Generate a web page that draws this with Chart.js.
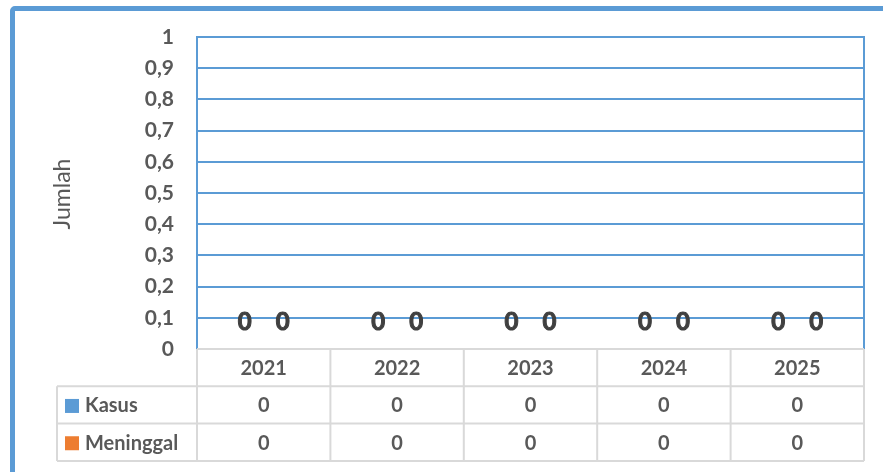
<!DOCTYPE html>
<html>
<head>
<meta charset="utf-8">
<script src="https://cdn.jsdelivr.net/npm/chart.js@4.4.1/dist/chart.umd.min.js"></script>
<style>
  html, body { margin: 0; padding: 0; background: #ffffff; }
  #wrap { position: relative; width: 883px; height: 472px; overflow: hidden; background: #fff; }
  #frame { position: absolute; left: 10px; top: 6px; width: 960px; height: 560px;
           border: 5px solid #5b9bd5; border-radius: 5px; box-sizing: border-box; }
  #c { position: absolute; left: 0; top: 0; }
</style>
</head>
<body>
<div id="wrap">
  <div id="frame"></div>
  <canvas id="c" width="883" height="472"></canvas>
</div>
<script>
const years = ['2021', '2022', '2023', '2024', '2025'];
const kasus = [0, 0, 0, 0, 0];
const meninggal = [0, 0, 0, 0, 0];
const seriesNames = ['Kasus', 'Meninggal'];
const seriesColors = ['#5b9bd5', '#ed7d31'];
const yTitle = 'Jumlah';

const FONT = 'Lato, "Open Sans", sans-serif';
const GRAY = '#d9d9d9';

const tablePlugin = {
  id: 'tablePlugin',
  afterDraw(chart) {
    const ctx = chart.ctx;
    const ca = chart.chartArea;
    const xs = chart.scales.x;
    const n = years.length;
    const colW = (ca.right - ca.left) / n;
    const rowH = 37.3;
    const top = ca.bottom;
    const labelLeft = 57;
    ctx.save();
    // right plot border
    ctx.strokeStyle = '#5b9bd5';
    ctx.lineWidth = 2;
    ctx.beginPath();
    ctx.moveTo(ca.right, ca.top - 1);
    ctx.lineTo(ca.right, ca.bottom);
    ctx.stroke();

    // data labels on bars
    ctx.fillStyle = '#404040';
    ctx.strokeStyle = '#404040';
    ctx.lineWidth = 1;
    ctx.font = 'bold 24px ' + FONT;
    ctx.textAlign = 'center';
    ctx.textBaseline = 'alphabetic';
    chart.data.datasets.forEach((ds, d) => {
      const meta = chart.getDatasetMeta(d);
      meta.data.forEach((el, i) => {
        ctx.fillText(String(ds.data[i]), el.x, el.y - 19);
        ctx.strokeText(String(ds.data[i]), el.x, el.y - 19);
      });
    });

    // table grid
    ctx.strokeStyle = GRAY;
    ctx.lineWidth = 2;
    ctx.beginPath();
    ctx.moveTo(ca.left, top); ctx.lineTo(ca.right, top);
    for (let r = 1; r <= 3; r++) {
      const y = top + r * rowH;
      ctx.moveTo(labelLeft, y); ctx.lineTo(ca.right, y);
    }
    for (let k = 0; k <= n; k++) {
      const x = ca.left + k * colW;
      ctx.moveTo(x, top); ctx.lineTo(x, top + 3 * rowH);
    }
    ctx.moveTo(labelLeft, top + rowH); ctx.lineTo(labelLeft, top + 3 * rowH);
    ctx.stroke();

    // header years
    ctx.fillStyle = '#595959';
    ctx.font = 'bold 20px ' + FONT;
    ctx.textBaseline = 'middle';
    ctx.textAlign = 'center';
    years.forEach((yr, i) => {
      const cx = xs.getPixelForValue(i);
      ctx.fillText(yr, cx, top + rowH / 2 + 1);
    });
    // rows
    const rows = [kasus, meninggal];
    rows.forEach((vals, r) => {
      const cy = top + (r + 1) * rowH + rowH / 2 + 1;
      vals.forEach((v, i) => {
        ctx.textAlign = 'center';
        ctx.fillText(String(v), xs.getPixelForValue(i), cy);
      });
      ctx.fillStyle = seriesColors[r];
      ctx.fillRect(65, cy - 7, 14, 14);
      ctx.fillStyle = '#595959';
      ctx.textAlign = 'left';
      ctx.fillText(seriesNames[r], 85, cy);
    });

    // y axis title
    ctx.save();
    ctx.translate(63, 194);
    ctx.rotate(-Math.PI / 2);
    ctx.font = '23px ' + FONT;
    ctx.fillStyle = '#595959';
    ctx.textAlign = 'center';
    ctx.textBaseline = 'middle';
    ctx.fillText(yTitle, 0, 0);
    ctx.restore();

    ctx.restore();
  }
};

new Chart(document.getElementById('c'), {
  type: 'bar',
  data: {
    labels: years,
    datasets: [
      { label: seriesNames[0], data: kasus, backgroundColor: seriesColors[0] },
      { label: seriesNames[1], data: meninggal, backgroundColor: seriesColors[1] }
    ]
  },
  options: {
    responsive: false,
    animation: false,
    devicePixelRatio: 1,
    layout: { padding: { top: 37, right: 19, bottom: 123, left: 0 } },
    datasets: { bar: { categoryPercentage: 0.57, barPercentage: 1 } },
    plugins: { legend: { display: false }, tooltip: { enabled: false } },
    scales: {
      x: { display: false },
      y: {
        min: 0, max: 1,
        afterFit(s) { s.width = 197; },
        ticks: {
          stepSize: 0.1,
          padding: 23,
          color: '#595959',
          font: { family: FONT, size: 21, weight: 'bold' },
          callback: (v) => {
            const r = Math.round(v * 10) / 10;
            return String(r).replace('.', ',');
          }
        },
        grid: {
          drawTicks: false,
          lineWidth: 2,
          color: (c) => (c.tick && c.tick.value === 0) ? 'rgba(0,0,0,0)' : '#5b9bd5'
        },
        border: { display: true, color: '#5b9bd5', width: 2 }
      }
    }
  },
  plugins: [tablePlugin]
});
</script>
</body>
</html>
